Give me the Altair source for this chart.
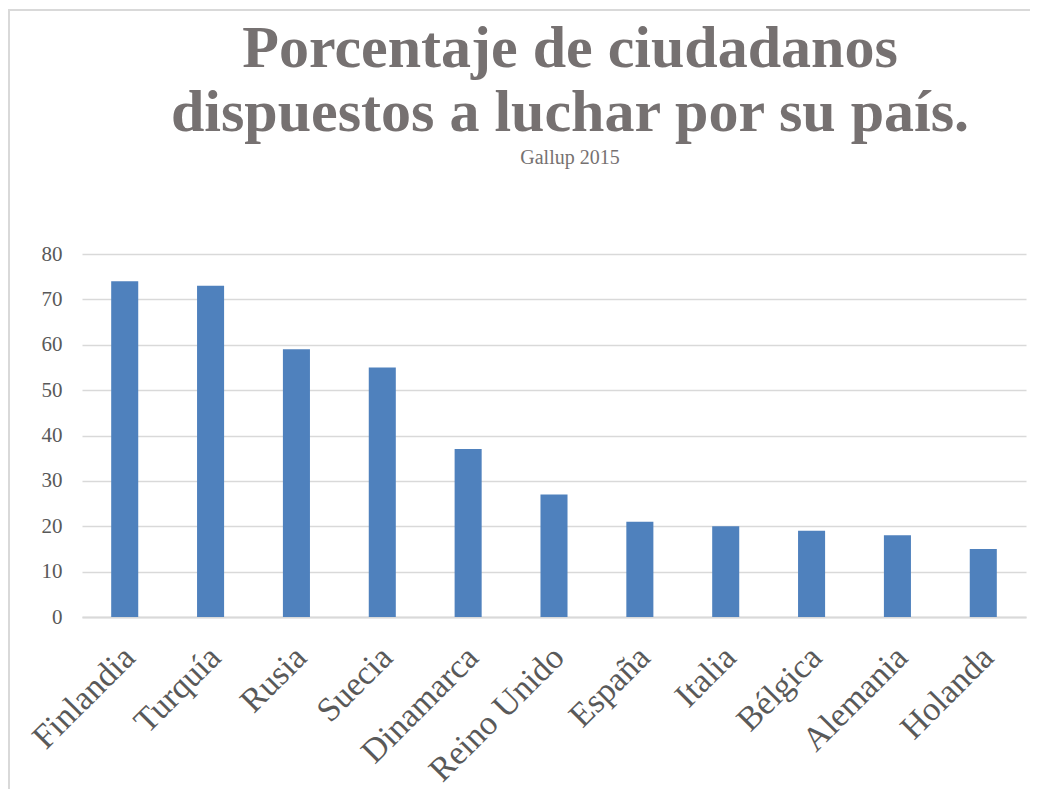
import altair as alt
import pandas as pd

countries = ["Finlandia", "Turquía", "Rusia", "Suecia", "Dinamarca", "Reino Unido",
             "España", "Italia", "Bélgica", "Alemania", "Holanda"]
values = [74, 73, 59, 55, 37, 27, 21, 20, 19, 18, 15]

df = pd.DataFrame({"pais": countries, "valor": values})

SERIF = "Liberation Serif"

bars = alt.Chart(df).mark_bar(color="#4F81BD").encode(
    x=alt.X("pais:N", sort=countries, title=None,
            scale=alt.Scale(paddingInner=0.685, paddingOuter=0.34),
            axis=alt.Axis(labelAngle=-45, labelAlign="right", labelBaseline="top",
                          labelFont=SERIF, labelFontSize=34, labelColor="#595959",
                          labelPadding=23, labelOffset=-7, labelLimit=400,
                          ticks=False, domain=True,
                          domainColor="#d9d9d9", domainWidth=2, grid=False)),
    y=alt.Y("valor:Q", title=None,
            scale=alt.Scale(domain=[0, 80]),
            axis=alt.Axis(values=[0, 10, 20, 30, 40, 50, 60, 70, 80],
                          labelFont=SERIF, labelFontSize=21, labelColor="#595959",
                          labelPadding=20, ticks=False, domain=False,
                          gridColor="#d9d9d9", gridWidth=1.5)),
)

frame = alt.Chart(pd.DataFrame({"k": [0]})).mark_rect(
    fill=None, stroke="#d9d9d9", strokeWidth=2, clip=False
).encode(
    x=alt.value(-73), x2=alt.value(1000), y=alt.value(-244), y2=alt.value(600)
)

chart = alt.layer(frame, bars).properties(
    width=944, height=363,
    padding={"left": 74, "top": 246, "right": 4, "bottom": 172},
    autosize=alt.AutoSizeParams(type="none"),
    title=alt.TitleParams(
        text=["Porcentaje de ciudadanos", "dispuestos a luchar por su país."],
        subtitle="Gallup 2015",
        font=SERIF, fontSize=60, fontWeight="bold", color="#767171",
        lineHeight=64,
        subtitleFont=SERIF, subtitleFontSize=20, subtitleColor="#767171",
        subtitlePadding=4, frame="group",
        anchor="middle", dx=16, offset=-160,
    ),
).configure_view(stroke=None)

chart.save("out.html", embed_options={"renderer": "svg", "actions": False})
